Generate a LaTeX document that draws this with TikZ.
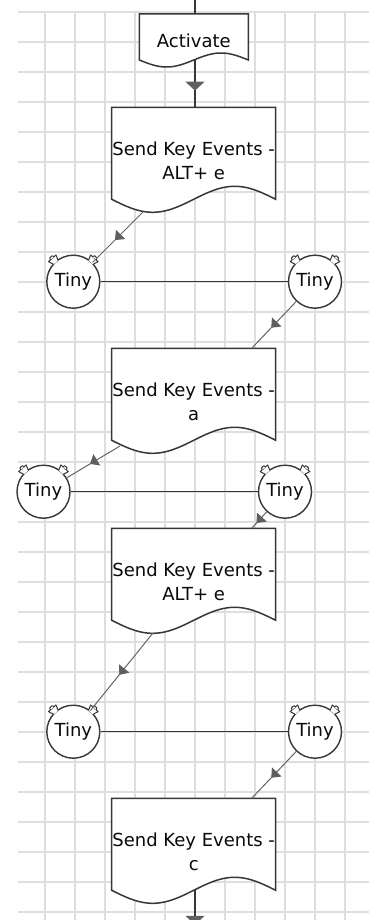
\documentclass[tikz,border=0pt]{standalone}
\usepackage{fontspec}
\setmainfont{DejaVu Sans}
\usetikzlibrary{arrows.meta,decorations.markings,calc}
\definecolor{gridc}{RGB}{222,222,222}
\definecolor{outl}{RGB}{55,55,55}
\definecolor{conn}{RGB}{100,100,100}
\definecolor{arrowc}{RGB}{95,95,95}
\definecolor{txt}{RGB}{10,10,10}
\tikzset{
  gridline/.style={gridc, line width=1.6pt},
  docline/.style={outl, line width=1.5pt, fill=white, line join=miter},
  doctext/.style={text=txt, font=\fontsize{18pt}{24.5pt}\selectfont, align=center, inner sep=0pt},
  tinynode/.style={circle, draw=outl, line width=1.4pt, fill=white, minimum size=53pt, inner sep=0pt, text=txt, font=\fontsize{18pt}{22pt}\selectfont},
  flowv/.style={outl, line width=1.4pt, postaction={decorate}, decoration={markings, mark=at position 0.5 with {\arrow{Triangle[width=19pt,length=9pt,color=arrowc,sep=-7pt]}}}},
  flowd/.style={conn, line width=1pt, postaction={decorate}, decoration={markings, mark=at position 0.5 with {\arrow{Triangle[width=13pt,length=8pt,color=arrowc,sep=-4pt]}}}},
  plainv/.style={outl, line width=1.4pt},
  link/.style={outl, line width=1.4pt},
  bell/.style={outl, line width=1pt, fill=white, line join=round},
}
\newcommand\docbox[5]{%
  \draw[docline] (#1,#2+#4) -- (#1,#2) -- (#1+#3,#2) -- (#1+#3,#2+#4)
    -- plot[domain=1:0, samples=60, variable=\t] ({#1+#3*\t},{#2+#4+#5*sin(360*\t)}) -- cycle;}
\newcommand\bellpair[1]{%
  \foreach \r in {-42,42}{%
    \begin{scope}[shift={(#1.center)}, rotate=\r]
      \draw[bell] (-3,-26) -- (-5,-31.5) -- (5,-31.5) -- (3,-26);
      \draw[bell] (-2.5,-31.5) -- (-1.5,-33.5) -- (1.5,-33.5) -- (2.5,-31.5);
    \end{scope}}}
\begin{document}
\begin{tikzpicture}[x=1pt,y=-1pt]
\useasboundingbox (0,0) rectangle (369,920);
% grid
\foreach \k in {0,...,30} \draw[gridline] (18,12+30*\k) -- (369,12+30*\k);
\foreach \k in {0,...,10} \draw[gridline] (45+30*\k,12) -- (45+30*\k,920);

% connector endpoints
\coordinate (ctop) at (195,-2);
\coordinate (b1in) at (195,14);
\coordinate (b1out) at (195,60);
\coordinate (b2in) at (195,107.3);
\coordinate (b2out) at (143,212);
\coordinate (b3in) at (251.7,348.3);
\coordinate (b3out) at (120,446);
\coordinate (b4in) at (251.7,528.3);
\coordinate (b4out) at (153,633);
\coordinate (b5in) at (251.7,798.3);
\coordinate (b5out) at (195,889.5);
\coordinate (cbot) at (195,946);

% document boxes
\docbox{139.3}{14}{109}{46}{7}
\docbox{111.7}{107.3}{164}{92}{13}
\docbox{111.7}{348.3}{164}{92}{13}
\docbox{111.7}{528.3}{164}{92}{13}
\docbox{111.7}{798.3}{164}{92}{13}

\node[doctext] (b1) at (193.8,40.7) {Activate};
\node[doctext] (b2) at (193.7,161) {Send Key Events -\\ALT+ e};
\node[doctext] (b3) at (193.7,402) {Send Key Events -\\a};
\node[doctext] (b4) at (193.7,582) {Send Key Events -\\ALT+ e};
\node[doctext] (b5) at (193.7,852) {Send Key Events -\\c};

% timers
\node[tinynode] (t1l) at (73.3,281.7) {Tiny};
\node[tinynode] (t1r) at (315,281.7) {Tiny};
\node[tinynode] (t2l) at (43.5,491.7) {Tiny};
\node[tinynode] (t2r) at (285,491.7) {Tiny};
\node[tinynode] (t3l) at (73.3,731.7) {Tiny};
\node[tinynode] (t3r) at (315,731.7) {Tiny};
\foreach \n in {t1l,t1r,t2l,t2r,t3l,t3r} {\bellpair{\n}}

% connectors
\draw[plainv] (ctop) -- (b1in);
\draw[flowv] (b1out) -- (b2in);
\draw[flowd] (b2out) -- (t1l);
\draw[link] (t1l) -- (t1r);
\draw[flowd] (t1r) -- (b3in);
\draw[flowd] (b3out) -- (t2l);
\draw[link] (t2l) -- (t2r);
\draw[flowd] (t2r) -- (b4in);
\draw[flowd] (b4out) -- (t3l);
\draw[link] (t3l) -- (t3r);
\draw[flowd] (t3r) -- (b5in);
\draw[flowv] (b5out) -- (cbot);
\end{tikzpicture}
\end{document}
